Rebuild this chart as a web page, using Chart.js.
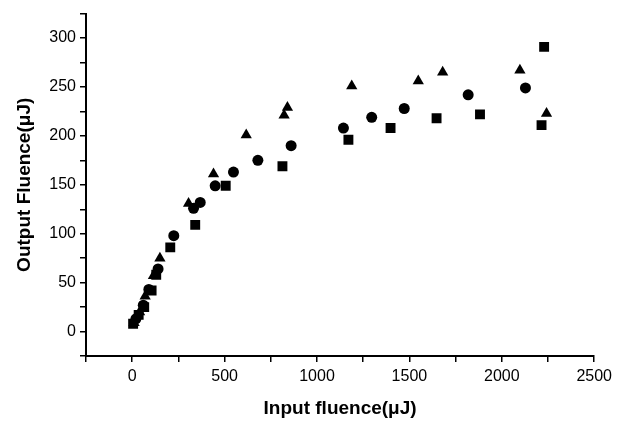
<!DOCTYPE html>
<html>
<head>
<meta charset="utf-8">
<script src="https://cdn.jsdelivr.net/npm/chart.js@4/dist/chart.umd.min.js"></script>
<style>
  html, body { margin: 0; padding: 0; background: #fff; }
  #wrap { width: 617px; height: 424px; }
</style>
</head>
<body>
<div id="wrap"><canvas id="chart" width="617" height="424"></canvas></div>
<script>
// Input fluence (x) and output fluence (y), in uJ
const squareX   = [5, 35, 65, 105, 130, 206, 341, 506, 813, 1170, 1398, 1647, 1882, 2215, 2229];
const squareY   = [8, 17, 25, 42, 58, 86, 109, 149, 169, 196, 208, 218, 222, 211, 291];

const circleX   = [20, 60, 90, 140, 225, 332, 368, 449, 548, 680, 860, 1143, 1296, 1472, 1818, 2128];
const circleY   = [13, 27, 43, 64, 98, 126, 132, 149, 163, 175, 190, 208, 219, 228, 242, 249];

const triangleX = [10, 40, 70, 115, 150, 305, 440, 617, 822, 840, 1188, 1548, 1680, 2098, 2242];
const triangleY = [9, 20, 36, 57, 75, 131, 161, 201, 221, 229, 251, 256, 265, 267, 223];

const xTicks = [0, 500, 1000, 1500, 2000, 2500];
const yTicks = [0, 50, 100, 150, 200, 250, 300];

const FONT = "'Liberation Sans', Arial, Helvetica, sans-serif";

function toPoints(xs, ys) {
    return xs.map((x, i) => ({ x: x, y: ys[i] }));
}

function makeSet(label, xs, ys, style, radius) {
    return {
        label: label,
        data: toPoints(xs, ys),
        pointStyle: style,
        pointRadius: radius,
        backgroundColor: '#000',
        borderColor: '#000',
        borderWidth: 0,
        showLine: false
    };
}

const data = {
    datasets: [
        makeSet('squares', squareX, squareY, 'rect', 7),
        makeSet('circles', circleX, circleY, 'circle', 5.5),
        makeSet('triangles', triangleX, triangleY, 'triangle', 6.5)
    ]
};

const config = {
    type: 'scatter',
    data: data,
    options: {
        responsive: false,
        animation: false,
        layout: { padding: { top: 12, right: 21, left: 0, bottom: 0 } },
        plugins: {
            legend: { display: false },
            tooltip: { enabled: false }
        },
        scales: {
            x: {
                type: 'linear',
                min: -250,
                max: 2500,
                border: { display: true, color: '#000', width: 2 },
                grid: { drawOnChartArea: false, color: '#000', tickLength: 6, lineWidth: 1.5 },
                ticks: {
                    stepSize: 250,
                    autoSkip: false,
                    maxRotation: 0,
                    padding: 5,
                    color: '#000',
                    font: { family: FONT, size: 16 },
                    callback: (v) => xTicks.includes(v) ? String(v) : ''
                },
                title: {
                    display: true,
                    text: 'Input fluence(\u03bcJ)',
                    color: '#000',
                    font: { family: FONT, size: 19, weight: 'bold' },
                    padding: { bottom: 4 }
                },
                afterFit: (axis) => { axis.height = 68; }
            },
            y: {
                type: 'linear',
                min: -25,
                max: 325,
                border: { display: true, color: '#000', width: 2 },
                grid: { drawOnChartArea: false, color: '#000', tickLength: 6, lineWidth: 1.5 },
                ticks: {
                    stepSize: 25,
                    autoSkip: false,
                    padding: 4,
                    color: '#000',
                    font: { family: FONT, size: 16 },
                    callback: (v) => yTicks.includes(v) ? String(v) : ''
                },
                title: {
                    display: true,
                    text: 'Output Fluence(\u03bcJ)',
                    color: '#000',
                    font: { family: FONT, size: 19, weight: 'bold' },
                    padding: { top: 13 }
                },
                afterFit: (axis) => { axis.width = 86; }
            }
        }
    }
};

new Chart(document.getElementById('chart').getContext('2d'), config);
</script>
</body>
</html>
